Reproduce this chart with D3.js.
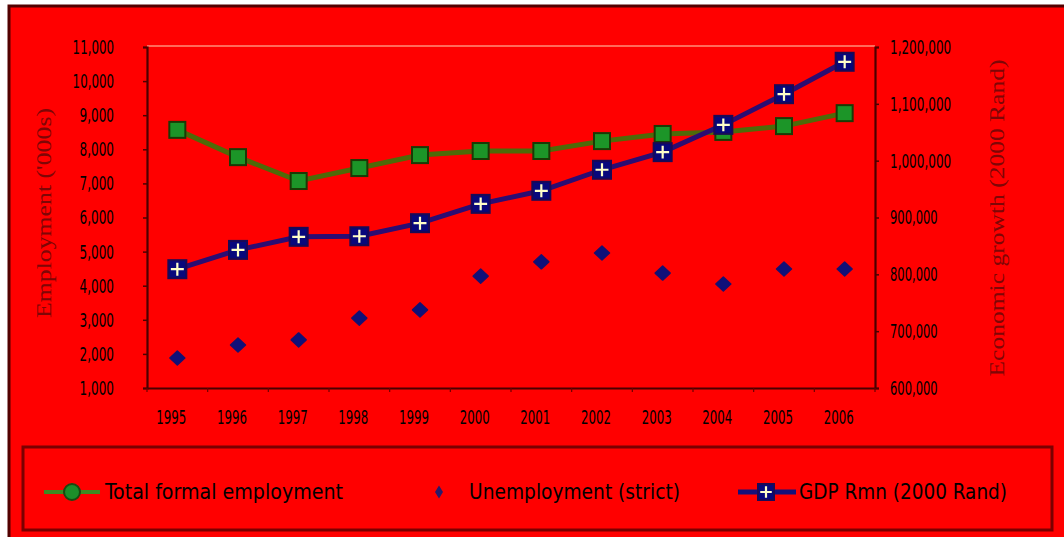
<!DOCTYPE html>
<html>
<head>
<meta charset="utf-8">
<script src="https://cdn.jsdelivr.net/npm/d3@7/dist/d3.min.js"></script>
<style>
  html, body { margin: 0; padding: 0; background: #ffffff; }
  svg { display: block; }
</style>
</head>
<body>
<svg id="chart" width="1064" height="537"></svg>
<script>
// Years on the category axis
const years = ["1995","1996","1997","1998","1999","2000","2001","2002","2003","2004","2005","2006"];
// Total formal employment ('000s), left axis
const formalEmployment = [8570, 7770, 7070, 7450, 7830, 7950, 7950, 8240, 8450, 8510, 8680, 9060];
// Unemployment, strict definition ('000s), left axis
const unemploymentStrict = [1880, 2260, 2410, 3050, 3290, 4280, 4700, 4960, 4370, 4050, 4490, 4490];
// GDP, R million at 2000 prices, right axis
const gdpRmn = [809000, 843000, 866000, 867000, 890000, 924000, 947000, 984000, 1015000, 1063000, 1117000, 1174000];
// Axis tick values
const leftTicks = [1000, 2000, 3000, 4000, 5000, 6000, 7000, 8000, 9000, 10000, 11000];
const rightTicks = [600000, 700000, 800000, 900000, 1000000, 1100000, 1200000];
// Legend labels
const seriesNames = ["Total formal employment", "Unemployment (strict)", "GDP Rmn (2000 Rand)"];

const svg = d3.select("#chart");
const narrow = "'Liberation Sans Narrow', 'DejaVu Sans Condensed', 'Liberation Sans', sans-serif";
const serif = "'Liberation Serif', 'DejaVu Serif', serif";

const plot = { left: 147, right: 875, top: 46, bottom: 388 };

// Chart background panel
svg.append("rect")
  .attr("x", 9).attr("y", 6).attr("width", 1070).attr("height", 545)
  .attr("fill", "#ff0000").attr("stroke", "#520000").attr("stroke-width", 3);

const x = d3.scaleBand().domain(years).range([plot.left, plot.right]).padding(0);
const yL = d3.scaleLinear().domain([1000, 11000]).range([plot.bottom, 47]);
const yR = d3.scaleLinear().domain([600000, 1200000]).range([plot.bottom, 47]);
const cx = d => x(d) + x.bandwidth() / 2;

// Condensed tick text: fixed advance per character
function condense(sel, perChar) {
  sel.attr("textLength", function () { return this.textContent.length * perChar; })
     .attr("lengthAdjust", "spacingAndGlyphs");
}

// Plot area top edge (faint)
svg.append("line")
  .attr("x1", plot.left).attr("x2", plot.right)
  .attr("y1", plot.top).attr("y2", plot.top)
  .attr("stroke", "#ff8f7a").attr("stroke-width", 1.5);

// Left axis
const gL = svg.append("g").attr("transform", `translate(${plot.left},0)`)
  .call(d3.axisLeft(yL).tickValues(leftTicks).tickFormat(d3.format(",")).tickSize(4).tickPadding(29));
gL.select(".domain").attr("stroke", "#4a0000").attr("stroke-width", 2.2);
gL.selectAll(".tick line").attr("stroke", "#4a0000").attr("stroke-width", 1.5);
gL.selectAll(".tick text").attr("font-family", narrow).attr("font-size", 20).attr("fill", "#000")
  .call(condense, 6.9);

// Right axis
const gR = svg.append("g").attr("transform", `translate(${plot.right},0)`)
  .call(d3.axisRight(yR).tickValues(rightTicks).tickFormat(d3.format(",")).tickSize(4).tickPadding(11));
gR.select(".domain").attr("stroke", "#4a0000").attr("stroke-width", 2.2);
gR.selectAll(".tick line").attr("stroke", "#4a0000").attr("stroke-width", 1.5);
gR.selectAll(".tick text").attr("font-family", narrow).attr("font-size", 20).attr("fill", "#000")
  .call(condense, 6.8);

// Bottom axis: labels at category centres, ticks at category boundaries
const gB = svg.append("g").attr("transform", `translate(0,${plot.bottom})`)
  .call(d3.axisBottom(x).tickSize(0).tickPadding(23));
gB.select(".domain").attr("stroke", "#4a0000").attr("stroke-width", 2.2);
gB.selectAll(".tick text").attr("font-family", narrow).attr("font-size", 19).attr("fill", "#000")
  .attr("dx", -6).call(condense, 7.5);
gB.selectAll(".boundary")
  .data(d3.range(years.length + 1))
  .join("line")
  .attr("x1", i => plot.left + i * x.step()).attr("x2", i => plot.left + i * x.step())
  .attr("y1", 0).attr("y2", 4)
  .attr("stroke", "#6a0000").attr("stroke-width", 1.2);

// Axis titles
svg.append("text")
  .attr("transform", `translate(51,213) rotate(-90)`)
  .attr("text-anchor", "middle")
  .attr("font-family", serif).attr("font-size", 21)
  .attr("fill", "#7e0606")
  .attr("textLength", 210).attr("lengthAdjust", "spacingAndGlyphs")
  .text("Employment ('000s)");
svg.append("text")
  .attr("transform", `translate(1004,218) rotate(-90)`)
  .attr("text-anchor", "middle")
  .attr("font-family", serif).attr("font-size", 21)
  .attr("fill", "#7e0606")
  .attr("textLength", 317).attr("lengthAdjust", "spacingAndGlyphs")
  .text("Economic growth (2000 Rand)");

// Marker helpers
function squareMarker(g, px, py, size, fill, stroke) {
  g.append("rect")
    .attr("x", px - size / 2).attr("y", py - size / 2)
    .attr("width", size).attr("height", size)
    .attr("fill", fill).attr("stroke", stroke).attr("stroke-width", 2);
}
function plusMarker(g, px, py, size) {
  squareMarker(g, px, py, size, "#08087c", "#1a0a55");
  const h = size * 0.36;
  g.append("path")
    .attr("d", `M${px - h},${py}H${px + h}M${px},${py - h}V${py + h}`)
    .attr("stroke", "#ffffc8").attr("stroke-width", 2.2);
}
function diamondPath(w, h) {
  return `M0,${-h / 2}L${w / 2},0L0,${h / 2}L${-w / 2},0Z`;
}

// Total formal employment series
const empData = years.map((yr, i) => [cx(yr), yL(formalEmployment[i])]);
svg.append("path")
  .attr("d", d3.line()(empData))
  .attr("fill", "none").attr("stroke", "#4f6a08").attr("stroke-width", 5);
const empG = svg.append("g");
empData.forEach(([px, py]) => squareMarker(empG, px, py, 16, "#1c9528", "#1b3a05"));

// Unemployment (strict) markers
svg.append("g").selectAll("path")
  .data(unemploymentStrict)
  .join("path")
  .attr("transform", (d, i) => `translate(${cx(years[i])},${yL(d)})`)
  .attr("d", diamondPath(15, 14))
  .attr("fill", "#10107a").attr("stroke", "#181070").attr("stroke-width", 1.5)
  .attr("stroke-linejoin", "round");

// GDP series
const gdpData = years.map((yr, i) => [cx(yr), yR(gdpRmn[i])]);
svg.append("path")
  .attr("d", d3.line()(gdpData))
  .attr("fill", "none").attr("stroke", "#2c0c72").attr("stroke-width", 5);
const gdpG = svg.append("g");
gdpData.forEach(([px, py]) => plusMarker(gdpG, px, py, 18));

// Legend
svg.append("rect")
  .attr("x", 23).attr("y", 447).attr("width", 1029).attr("height", 83)
  .attr("fill", "none").attr("stroke", "#7a0000").attr("stroke-width", 3);

const legendY = 492;
const legend = svg.append("g");
// Formal employment key
legend.append("line").attr("x1", 44).attr("x2", 100).attr("y1", legendY).attr("y2", legendY)
  .attr("stroke", "#3f8a22").attr("stroke-width", 4);
legend.append("circle").attr("cx", 72).attr("cy", legendY).attr("r", 8)
  .attr("fill", "#1d8f2a").attr("stroke", "#1b4a10").attr("stroke-width", 2);
// Unemployment key
legend.append("path").attr("transform", `translate(439,${legendY})`)
  .attr("d", diamondPath(8, 13)).attr("fill", "#2a1a6a");
// GDP key
legend.append("line").attr("x1", 738).attr("x2", 796).attr("y1", legendY).attr("y2", legendY)
  .attr("stroke", "#14107a").attr("stroke-width", 5);
plusMarker(legend, 766, legendY, 16);

const legendText = [
  { x: 105, w: 238 },
  { x: 469, w: 211 },
  { x: 799, w: 208 }
];
legend.selectAll("text.lbl")
  .data(seriesNames)
  .join("text")
  .attr("class", "lbl")
  .attr("x", (d, i) => legendText[i].x)
  .attr("y", legendY + 7)
  .attr("font-family", narrow).attr("font-size", 21).attr("fill", "#000")
  .attr("textLength", (d, i) => legendText[i].w).attr("lengthAdjust", "spacingAndGlyphs")
  .text(d => d);
</script>
</body>
</html>
